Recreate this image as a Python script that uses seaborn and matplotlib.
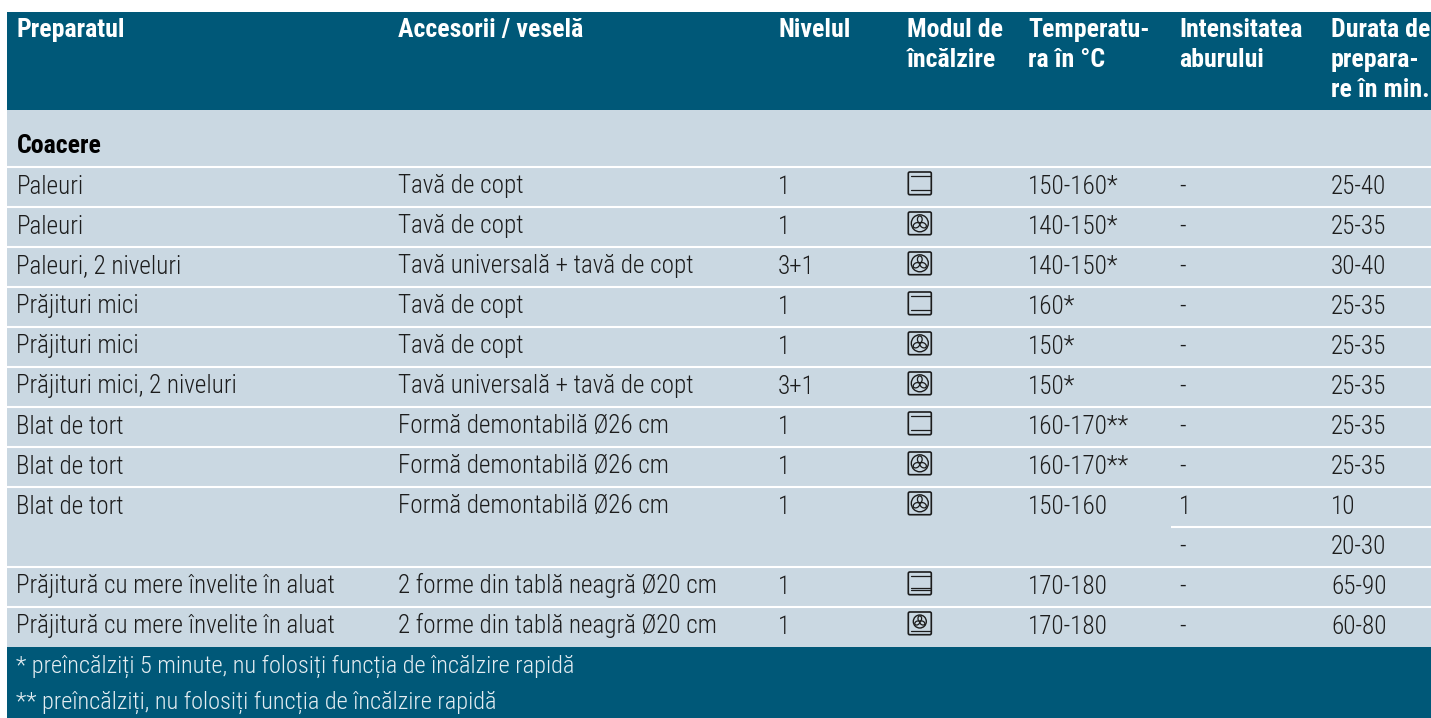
import numpy as np
import seaborn as sns
from matplotlib import pyplot as plt
from matplotlib.colors import ListedColormap
from matplotlib.patches import Circle, Ellipse, FancyBboxPatch

# table content
headers = [["Preparatul"], ["Accesorii / veselă"], ["Nivelul"], ["Modul de", "încălzire"],
           ["Temperatu-", "ra în °C"], ["Intensitatea", "aburului"], ["Durata de", "prepara-", "re în min."]]
section = "Coacere"
dishes = ["Paleuri", "Paleuri", "Paleuri, 2 niveluri", "Prăjituri mici", "Prăjituri mici",
          "Prăjituri mici, 2 niveluri", "Blat de tort", "Blat de tort", "Blat de tort", "",
          "Prăjitură cu mere învelite în aluat", "Prăjitură cu mere învelite în aluat"]
accessories = ["Tavă de copt", "Tavă de copt", "Tavă universală + tavă de copt", "Tavă de copt",
               "Tavă de copt", "Tavă universală + tavă de copt", "Formă demontabilă Ø26 cm",
               "Formă demontabilă Ø26 cm", "Formă demontabilă Ø26 cm", "",
               "2 forme din tablă neagră Ø20 cm", "2 forme din tablă neagră Ø20 cm"]
levels = ["1", "1", "3+1", "1", "1", "3+1", "1", "1", "1", "", "1", "1"]
modes = ["top", "fan", "fan", "top", "fan", "fan", "top", "fan", "fan", "", "double", "fanlow"]
temps = ["150-160*", "140-150*", "140-150*", "160*", "150*", "150*", "160-170**", "160-170**",
         "150-160", "", "170-180", "170-180"]
steam = ["-", "-", "-", "-", "-", "-", "-", "-", "1", "-", "-", "-"]
times = ["25-40", "25-35", "30-40", "25-35", "25-35", "25-35", "25-35", "25-35", "10", "20-30",
         "65-90", "60-80"]
notes = ["* preîncălziți 5 minute, nu folosiți funcția de încălzire rapidă",
         "** preîncălziți, nu folosiți funcția de încălzire rapidă"]

dark = "#005878"
light = "#cad8e2"
ink = "#1c1c1c"
col_x = [16.5, 398, 778, 907, 1028, 1179, 1331]
FS = 18.1
HS = 18.6

sns.set_theme(style="white")
plt.rcParams["font.family"] = ["Roboto Condensed", "Liberation Sans", "DejaVu Sans"]

fig = plt.figure(figsize=(14.31, 7.18), dpi=100, facecolor="white")

# background bands, one heatmap row per pixel
bands = np.repeat([0, 1, 0], [98, 537, 71]).reshape(-1, 1)
bg = fig.add_axes([7 / 1431, 0, 1424 / 1431, 706 / 718])
sns.heatmap(bands, ax=bg, cmap=ListedColormap([dark, light]), cbar=False,
            xticklabels=False, yticklabels=False, vmin=0, vmax=1)

# overlay in pixel coordinates
ax = fig.add_axes([0, 0, 1, 1], facecolor="none")
ax.set_xlim(0, 1431)
ax.set_ylim(718, 0)
ax.axis("off")


def icon(ax, x, y, kind):
    ax.add_patch(FancyBboxPatch((x + 1.3, y + 0.5), 23, 22.7, boxstyle="round,pad=0,rounding_size=1.5",
                                fc="none", ec=ink, lw=1.2))
    if kind in ("top", "double"):
        ax.plot([x + 3.5, x + 22.5], [y + 4.5, y + 4.5], color=ink, lw=0.9)
    if kind == "top":
        ax.plot([x + 3.5, x + 22.5], [y + 18, y + 18], color=ink, lw=0.9)
    if kind == "double":
        ax.plot([x + 3.5, x + 22.5], [y + 16, y + 16], color=ink, lw=0.9)
        ax.plot([x + 3.5, x + 22.5], [y + 18.5, y + 18.5], color=ink, lw=0.9)
    if kind in ("fan", "fanlow"):
        r = 8.5 if kind == "fan" else 6.5
        cx, cy = x + 12.8, y + (11.8 if kind == "fan" else 10)
        ax.add_patch(Circle((cx, cy), r, fc="none", ec=ink, lw=1))
        for a in (90, 210, 330):
            t = np.deg2rad(a)
            ax.add_patch(Ellipse((cx + 0.46 * r * np.cos(t), cy - 0.46 * r * np.sin(t)),
                                 0.8 * r, 0.56 * r, angle=-a, fc="none", ec=ink, lw=0.9))
        if kind == "fanlow":
            ax.plot([x + 3.5, x + 22.5], [y + 19.5, y + 19.5], color=ink, lw=0.9)


for x, lines in zip(col_x, headers):
    for i, line in enumerate(lines):
        ax.text(x, 37 + 30 * i, line, color="white", fontsize=HS, fontweight="bold", va="baseline")

ax.text(col_x[0], 153, section, color="black", fontsize=HS, fontweight="bold", va="baseline")
ax.plot([7, 1431], [166.5, 166.5], color="white", lw=1.5, solid_capstyle="butt")

for i in range(12):
    top = 167 + 40 * i
    base = top + 26.5
    if i != 9:
        ax.text(col_x[0], base, dishes[i], color=ink, fontsize=FS, fontweight=300, va="baseline")
        ax.text(col_x[1], base, accessories[i], color=ink, fontsize=FS, fontweight=300, va="baseline")
        ax.text(col_x[2], base, levels[i], color=ink, fontsize=FS, fontweight=300, va="baseline")
        ax.text(col_x[4], base, temps[i], color=ink, fontsize=FS, fontweight=300, va="baseline")
        icon(ax, 907, top + 4.5, modes[i])
    ax.text(col_x[5], base, steam[i], color=ink, fontsize=FS, fontweight=300, va="baseline")
    ax.text(col_x[6], base, times[i], color=ink, fontsize=FS, fontweight=300, va="baseline")
    if i < 11:
        left = 1171 if i == 8 else 7
        ax.plot([left, 1431], [top + 39.5, top + 39.5], color="white", lw=1.5, solid_capstyle="butt")

for i, note in enumerate(notes):
    ax.text(col_x[0], 673 + 36 * i, note, color="#e4edf2", fontsize=17.6, fontweight=300, va="baseline")

sns.despine(ax=bg, left=True, bottom=True)
fig.savefig("out.png", dpi=100)
